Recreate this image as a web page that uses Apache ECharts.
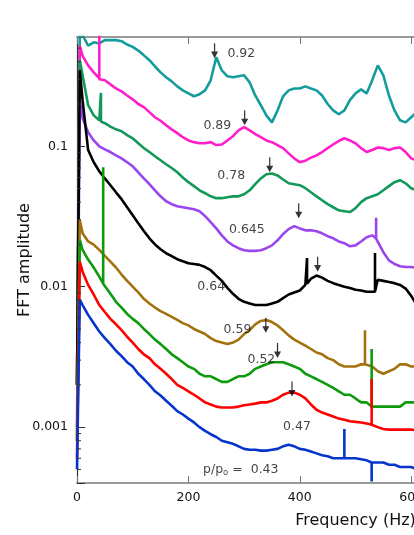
<!DOCTYPE html>
<html>
<head>
<meta charset="utf-8">
<script src="https://cdn.jsdelivr.net/npm/echarts@6/dist/echarts.min.js"></script>
<style>
  html, body { margin: 0; padding: 0; background: #fff; overflow: hidden; }
  #chart { width: 650px; height: 535px; }
</style>
</head>
<body>
<div id="chart"></div>
<script>
// frequency grid (Hz) shared by all spectra
const freqs = [0, 5, 10, 20, 30, 40, 50, 60, 70, 80, 90, 100, 110, 120, 130, 140, 150, 160, 170, 180, 190, 200,
  210, 220, 230, 240, 250, 260, 270, 280, 290, 300, 310, 320, 330, 340, 350, 360, 370, 380, 390, 400,
  410, 420, 430, 440, 450, 460, 470, 480, 490, 500, 510, 520, 530, 540, 550, 560, 570, 580, 590, 600, 610, 620];

// FFT amplitude, one array per p/po
const amp092 = [0.002, 0.7, 0.62, 0.52, 0.55, 0.54, 0.57, 0.57, 0.57, 0.56, 0.53, 0.51, 0.48, 0.444, 0.41, 0.37, 0.336, 0.31, 0.29, 0.267, 0.25, 0.238,
  0.227, 0.235, 0.25, 0.295, 0.43, 0.347, 0.315, 0.31, 0.315, 0.32, 0.285, 0.23, 0.196, 0.166, 0.148, 0.18, 0.227, 0.25, 0.258, 0.258,
  0.267, 0.258, 0.25, 0.23, 0.2, 0.18, 0.169, 0.18, 0.213, 0.238, 0.254, 0.238, 0.295, 0.377, 0.32, 0.23, 0.18, 0.153, 0.148, 0.161, 0.175, 0.18];
const amp089 = [0.002, 0.52, 0.44, 0.377, 0.336, 0.305, 0.295, 0.276, 0.258, 0.246, 0.23, 0.216, 0.2, 0.19, 0.175, 0.161, 0.152, 0.141, 0.132, 0.124, 0.116, 0.11,
  0.107, 0.105, 0.105, 0.107, 0.102, 0.103, 0.11, 0.118, 0.13, 0.137, 0.13, 0.122, 0.116, 0.11, 0.107, 0.102, 0.097, 0.089, 0.082, 0.077,
  0.079, 0.083, 0.086, 0.091, 0.097, 0.103, 0.109, 0.114, 0.11, 0.105, 0.097, 0.091, 0.094, 0.098, 0.097, 0.094, 0.097, 0.098, 0.091, 0.082, 0.079, 0.079];
const amp078 = [0.002, 0.41, 0.32, 0.196, 0.166, 0.153, 0.146, 0.138, 0.132, 0.128, 0.12, 0.114, 0.105, 0.097, 0.091, 0.085, 0.0795, 0.0745, 0.07, 0.0653, 0.06, 0.0555,
  0.052, 0.0486, 0.0463, 0.044, 0.0427, 0.0427, 0.0434, 0.044, 0.044, 0.0455, 0.0486, 0.0537, 0.059, 0.0632, 0.064, 0.062, 0.058, 0.0545, 0.0537, 0.0528,
  0.0503, 0.047, 0.044, 0.0413, 0.0387, 0.0368, 0.035, 0.0345, 0.034, 0.0362, 0.04, 0.0427, 0.044, 0.0455, 0.0486, 0.052, 0.0555, 0.0573, 0.0545, 0.0503, 0.0486, 0.0486];
const amp0645 = [0.001, 0.213, 0.158, 0.126, 0.11, 0.1, 0.095, 0.091, 0.086, 0.082, 0.077, 0.072, 0.0653, 0.059, 0.0537, 0.0486, 0.044, 0.0406, 0.0387, 0.0374, 0.0368, 0.0362,
  0.0356, 0.0345, 0.0318, 0.0288, 0.026, 0.0232, 0.021, 0.0197, 0.0188, 0.0182, 0.018, 0.018, 0.0182, 0.0188, 0.0197, 0.0214, 0.0237, 0.0257, 0.027, 0.026,
  0.0252, 0.0252, 0.0248, 0.024, 0.0229, 0.0221, 0.021, 0.0204, 0.0194, 0.0197, 0.021, 0.0225, 0.0232, 0.0214, 0.0176, 0.0154, 0.0145, 0.014, 0.0138, 0.0138, 0.0136, 0.0136];
const amp064 = [0.002, 0.348, 0.213, 0.094, 0.077, 0.0664, 0.059, 0.0528, 0.047, 0.042, 0.0368, 0.0323, 0.0283, 0.0249, 0.0221, 0.02, 0.0185, 0.0173, 0.0165, 0.0157, 0.0152, 0.0147,
  0.0145, 0.0143, 0.0138, 0.0131, 0.012, 0.011, 0.0098, 0.0089, 0.0082, 0.0078, 0.0076, 0.0074, 0.0074, 0.0074, 0.0076, 0.0078, 0.0083, 0.0088, 0.0091, 0.0094,
  0.0103, 0.0114, 0.012, 0.0116, 0.011, 0.0106, 0.0103, 0.01, 0.0098, 0.0095, 0.0094, 0.0092, 0.0092, 0.0112, 0.011, 0.0108, 0.0106, 0.0103, 0.0097, 0.0086, 0.0074, 0.0071];
const amp059 = [0.0008, 0.03, 0.024, 0.021, 0.0199, 0.0183, 0.0166, 0.0151, 0.0137, 0.0122, 0.011, 0.01, 0.0091, 0.0082, 0.0076, 0.0071, 0.0067, 0.0064, 0.0061, 0.0058, 0.0055, 0.0053,
  0.005, 0.0048, 0.0046, 0.0043, 0.0041, 0.004, 0.0039, 0.004, 0.0042, 0.0046, 0.0049, 0.0054, 0.0057, 0.0058, 0.0056, 0.0053, 0.0049, 0.0045, 0.0042, 0.004,
  0.0038, 0.0036, 0.0034, 0.0033, 0.0031, 0.003, 0.0028, 0.0027, 0.0027, 0.0027, 0.0028, 0.0028, 0.0027, 0.0025, 0.0024, 0.0025, 0.0026, 0.0028, 0.0028, 0.0027, 0.0027, 0.0027];
const amp052 = [0.0008, 0.0216, 0.0183, 0.0156, 0.0137, 0.0118, 0.0102, 0.0089, 0.0078, 0.0071, 0.0064, 0.0059, 0.0055, 0.005, 0.0046, 0.0042, 0.0039, 0.0036, 0.0033, 0.0031, 0.0029, 0.0027,
  0.0026, 0.0024, 0.0023, 0.0023, 0.0022, 0.0021, 0.0021, 0.0022, 0.0023, 0.0023, 0.0024, 0.0026, 0.0027, 0.0028, 0.0029, 0.0029, 0.0029, 0.0028, 0.0027, 0.0026,
  0.0024, 0.0023, 0.0022, 0.0021, 0.002, 0.0019, 0.0018, 0.0017, 0.0017, 0.0016, 0.0015, 0.0015, 0.0014, 0.0014, 0.0014, 0.0014, 0.0014, 0.0014, 0.0015, 0.0015, 0.0015, 0.0015];
const amp047 = [0.0006, 0.0151, 0.0128, 0.0103, 0.0088, 0.0074, 0.0066, 0.0059, 0.0054, 0.0049, 0.0044, 0.004, 0.0036, 0.0033, 0.0031, 0.0028, 0.0026, 0.0024, 0.0022, 0.002, 0.0019, 0.0018,
  0.0017, 0.0016, 0.0015, 0.00145, 0.0014, 0.00138, 0.00138, 0.00138, 0.0014, 0.00143, 0.00145, 0.00147, 0.0015, 0.0015, 0.00154, 0.0016, 0.0017, 0.00176, 0.00176, 0.0017,
  0.0016, 0.00145, 0.00133, 0.00127, 0.00123, 0.00119, 0.00115, 0.00113, 0.0011, 0.00109, 0.00108, 0.00106, 0.00104, 0.001, 0.00097, 0.00096, 0.00096, 0.00096, 0.00096, 0.00096, 0.00095, 0.00095];
const amp043 = [0.0005, 0.0081, 0.0074, 0.0063, 0.0055, 0.0048, 0.0043, 0.0039, 0.0035, 0.0032, 0.0029, 0.0027, 0.0024, 0.0022, 0.002, 0.0018, 0.00168, 0.00154, 0.00142, 0.0013, 0.00123, 0.00115,
  0.00108, 0.001, 0.00094, 0.00089, 0.00085, 0.0008, 0.00078, 0.00076, 0.00073, 0.0007, 0.00069, 0.00069, 0.00068, 0.00068, 0.00069, 0.0007, 0.00073, 0.00075, 0.00073, 0.0007,
  0.00069, 0.00067, 0.00065, 0.00063, 0.00062, 0.0006, 0.0006, 0.0006, 0.0006, 0.0006, 0.00059, 0.00058, 0.00056, 0.00056, 0.00056, 0.00054, 0.00054, 0.00052, 0.00052, 0.00052, 0.0005, 0.0005];

// narrow spikes: [freq, level beside it, tip]
const spikes089 = [[40, 0.3, 0.9]];
const spikes078 = [[43, 0.15, 0.24]];
const spikes0645 = [[537, 0.022, 0.031]];
const spikes064 = [[413, 0.0105, 0.016], [535, 0.0092, 0.0174]];
const spikes059 = [[517, 0.0028, 0.0049]];
const spikes052 = [[47, 0.0105, 0.071], [529, 0.0014, 0.0036]];
const spikes047 = [[529, 0.00104, 0.0022]];
const spikes043 = [[480, 0.0006, 0.00097], [529, 0.00056, 0.00041]];

// peak arrows (tip position) and curve labels
const arrowFreq = [247, 301, 346, 398, 432, 339, 360, 386];
const arrowAmp = [0.424, 0.141, 0.0653, 0.0307, 0.0128, 0.0047, 0.0031, 0.00165];
const labelText = ['0.92', '0.89', '0.78', '0.645', '0.64', '0.59', '0.52', '0.47', '{t|p/p}{s|o}{t| =  0.43}'];
const labelFreq = [295, 252, 277, 305, 241, 288, 331, 395, 294];
const labelAmp = [0.459, 0.141, 0.0612, 0.0256, 0.01, 0.0049, 0.003, 0.001, 0.0005];

const yTickLabels = {'-3': '0.001', '-2': '0.01', '-1': '0.1'};

const curves = [
  {amp: amp092, spikes: [], color: '#149c9c'},
  {amp: amp089, spikes: spikes089, color: '#ff1ecc'},
  {amp: amp078, spikes: spikes078, color: '#12995a'},
  {amp: amp0645, spikes: spikes0645, color: '#9a46ee'},
  {amp: amp064, spikes: spikes064, color: '#000000'},
  {amp: amp059, spikes: spikes059, color: '#a2720f'},
  {amp: amp052, spikes: spikes052, color: '#0d9a0d'},
  {amp: amp047, spikes: spikes047, color: '#ff0000'},
  {amp: amp043, spikes: spikes043, color: '#0634cc'}
];

function buildLine(amp, spikes) {
  const pts = freqs.map((f, i) => [f, amp[i]]);
  spikes.forEach(s => { pts.push([s[0], s[1]], [s[0], s[2]], [s[0], s[1]]); });
  pts.sort((a, b) => a[0] - b[0]);
  return pts;
}

// minor ticks at 2..9 of each decade
const minorTicks = [];
for (let e = -4; e <= -1; e++) {
  for (let m = 2; m <= 9; m++) {
    const v = m * Math.pow(10, e);
    if (v > 0.0004 && v < 0.6) minorTicks.push([0, v]);
  }
}

const FONT = 'DejaVu Sans';

const series = curves.map(c => ({
  type: 'line',
  data: buildLine(c.amp, c.spikes),
  showSymbol: false,
  lineStyle: {color: c.color, width: 2.6},
  itemStyle: {color: c.color},
  animation: false
}));

series.push({
  type: 'custom',
  data: minorTicks,
  renderItem: (params, api) => {
    const p = api.coord([api.value(0), api.value(1)]);
    return {type: 'line', shape: {x1: p[0], y1: p[1], x2: p[0] + 4, y2: p[1]},
      style: {stroke: '#333', lineWidth: 1}};
  },
  animation: false,
  z: 5
});

series.push({
  type: 'scatter',
  data: arrowFreq.map((f, i) => [f, arrowAmp[i]]),
  symbol: 'path://M3.3,0 L4.7,0 L4.7,9 L8,9 L4,16 L0,9 L3.3,9 Z',
  symbolSize: [7, 15],
  symbolOffset: [0, '-50%'],
  itemStyle: {color: '#000'},
  animation: false,
  z: 10
});

series.push({
  type: 'scatter',
  data: labelFreq.map((f, i) => [f, labelAmp[i]]),
  symbolSize: 0,
  label: {
    show: true,
    position: 'inside',
    formatter: p => labelText[p.dataIndex],
    color: '#111',
    fontFamily: FONT,
    fontSize: 12.5,
    rich: {
      t: {fontFamily: FONT, fontSize: 12.5, color: '#111'},
      s: {fontFamily: FONT, fontSize: 8.5, color: '#111', padding: [7, 0, 0, 0]}
    }
  },
  animation: false,
  z: 10
});

const chart = echarts.init(document.getElementById('chart'));
chart.setOption({
  backgroundColor: '#fff',
  animation: false,
  grid: {left: 77, top: 37, width: 557, height: 446, outerBoundsMode: 'none'},
  xAxis: [{
    type: 'value',
    min: 0,
    max: 1000,
    interval: 200,
    name: 'Frequency (Hz)',
    nameLocation: 'middle',
    nameGap: 30,
    nameTextStyle: {fontFamily: FONT, fontSize: 16, color: '#111'},
    axisLine: {lineStyle: {color: '#9a9a9a', width: 2}},
    axisTick: {inside: true, length: 7, lineStyle: {color: '#777'}},
    axisLabel: {fontFamily: FONT, fontSize: 12.5, color: '#111', margin: 8},
    splitLine: {show: false}
  }, {
    type: 'value',
    position: 'top',
    min: 0,
    max: 1000,
    interval: 200,
    axisLine: {lineStyle: {color: '#9a9a9a', width: 2}},
    axisTick: {inside: true, length: 7, lineStyle: {color: '#777'}},
    axisLabel: {show: false},
    splitLine: {show: false}
  }],
  yAxis: {
    type: 'log',
    min: 0.0004,
    max: 0.6,
    name: 'FFT amplitude',
    nameLocation: 'middle',
    nameRotate: 90,
    nameGap: 44,
    nameMoveOverlap: false,
    nameTextStyle: {fontFamily: FONT, fontSize: 16, color: '#111'},
    axisLine: {show: true, lineStyle: {color: '#333', width: 1.2}},
    axisTick: {inside: true, length: 8, lineStyle: {color: '#333'}},
    axisLabel: {
      fontFamily: FONT, fontSize: 12.5, color: '#111', margin: 9,
      formatter: v => {
        const e = Math.log10(v);
        return Math.abs(e - Math.round(e)) < 1e-6 ? (yTickLabels[String(Math.round(e))] || '') : '';
      }
    },
    splitLine: {show: false}
  },
  series: series
});
</script>
</body>
</html>
